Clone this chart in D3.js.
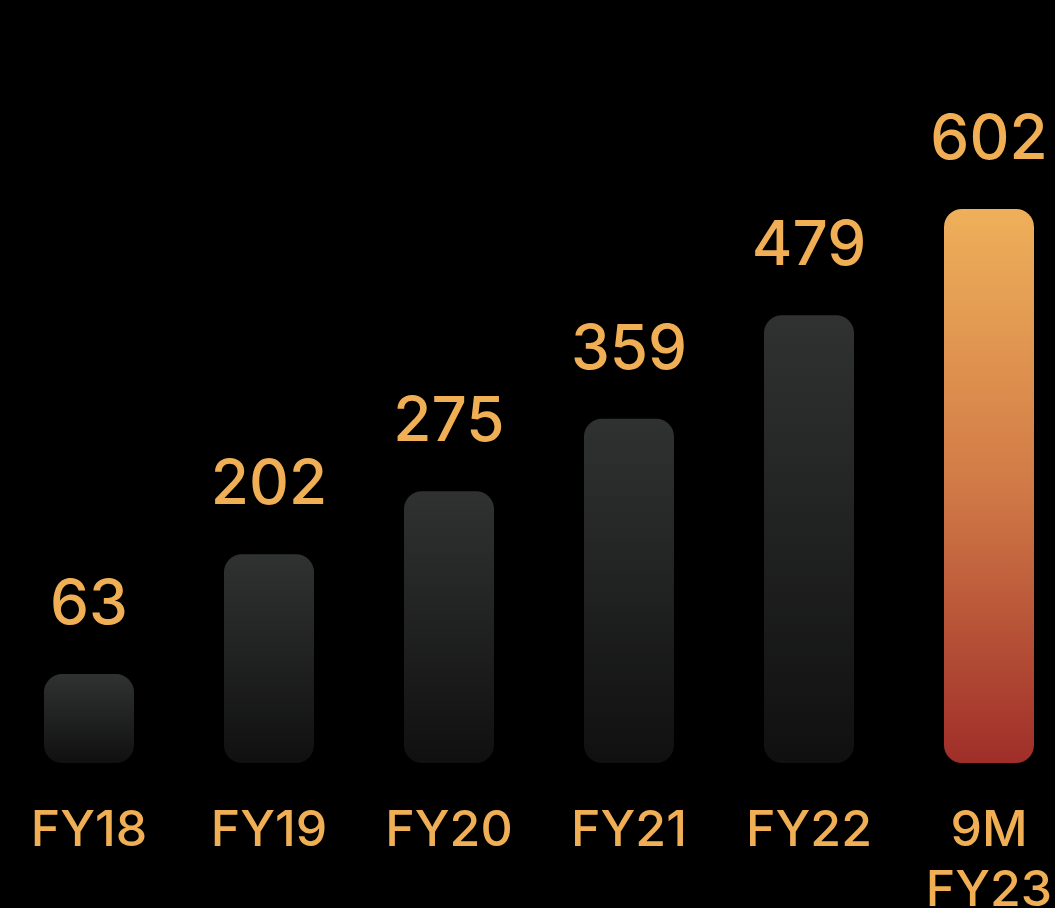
<!DOCTYPE html>
<html>
<head>
<meta charset="utf-8">
<script src="https://cdn.jsdelivr.net/npm/d3@7"></script>
<style>
  html, body { margin: 0; padding: 0; background: #000; }
  svg { display: block; }
</style>
</head>
<body>
<script>
const categories = [["FY18"], ["FY19"], ["FY20"], ["FY21"], ["FY22"], ["9M", "FY23"]];
const values = [63, 202, 275, 359, 479, 602];
const highlight = [false, false, false, false, false, true];

const width = 1055, height = 908;
const baseY = 763, topY = 209;
const labelColor = "#F0AE55";

const svg = d3.select("body").append("svg")
  .attr("width", width)
  .attr("height", height);

const defs = svg.append("defs");
const grayGrad = defs.append("linearGradient")
  .attr("id", "gray").attr("x1", 0).attr("y1", 0).attr("x2", 0).attr("y2", 1);
grayGrad.append("stop").attr("offset", "0%").attr("stop-color", "#303231");
grayGrad.append("stop").attr("offset", "100%").attr("stop-color", "#101010");

const hiGrad = defs.append("linearGradient")
  .attr("id", "hi").attr("x1", 0).attr("y1", 0).attr("x2", 0).attr("y2", 1);
hiGrad.append("stop").attr("offset", "0%").attr("stop-color", "#EFB05A");
hiGrad.append("stop").attr("offset", "50%").attr("stop-color", "#D17A47");
hiGrad.append("stop").attr("offset", "100%").attr("stop-color", "#9F2E29");

const x = d3.scaleBand()
  .domain(d3.range(values.length))
  .range([-1, 1079])
  .paddingInner(0.5)
  .paddingOuter(0.25);

const y = d3.scaleLinear()
  .domain([-40, 602])
  .range([baseY, topY]);

svg.selectAll("rect.bar")
  .data(values)
  .enter().append("rect")
  .attr("class", "bar")
  .attr("x", (d, i) => x(i))
  .attr("y", d => y(d))
  .attr("width", x.bandwidth())
  .attr("height", d => baseY - y(d))
  .attr("rx", 18)
  .attr("fill", (d, i) => highlight[i] ? "url(#hi)" : "url(#gray)");

svg.selectAll("text.value")
  .data(values)
  .enter().append("text")
  .attr("class", "value")
  .attr("x", (d, i) => x(i) + x.bandwidth() / 2)
  .attr("y", d => y(d) - 50)
  .attr("text-anchor", "middle")
  .style("font-family", "Inter, 'Noto Sans', sans-serif")
  .style("font-size", "62px")
  .style("font-weight", 500)
  .style("fill", labelColor)
  .text(d => d);

const cats = svg.selectAll("text.cat")
  .data(categories)
  .enter().append("text")
  .attr("class", "cat")
  .attr("x", (d, i) => x(i) + x.bandwidth() / 2)
  .attr("y", 846)
  .attr("text-anchor", "middle")
  .style("font-family", "Inter, 'Noto Sans', sans-serif")
  .style("font-size", "50px")
  .style("font-weight", 500)
  .style("fill", labelColor);

cats.selectAll("tspan")
  .data((d, i) => d.map(t => ({ t, i })))
  .enter().append("tspan")
  .attr("x", d => x(d.i) + x.bandwidth() / 2)
  .attr("dy", (d, j) => j === 0 ? 0 : 60)
  .text(d => d.t);
</script>
</body>
</html>
